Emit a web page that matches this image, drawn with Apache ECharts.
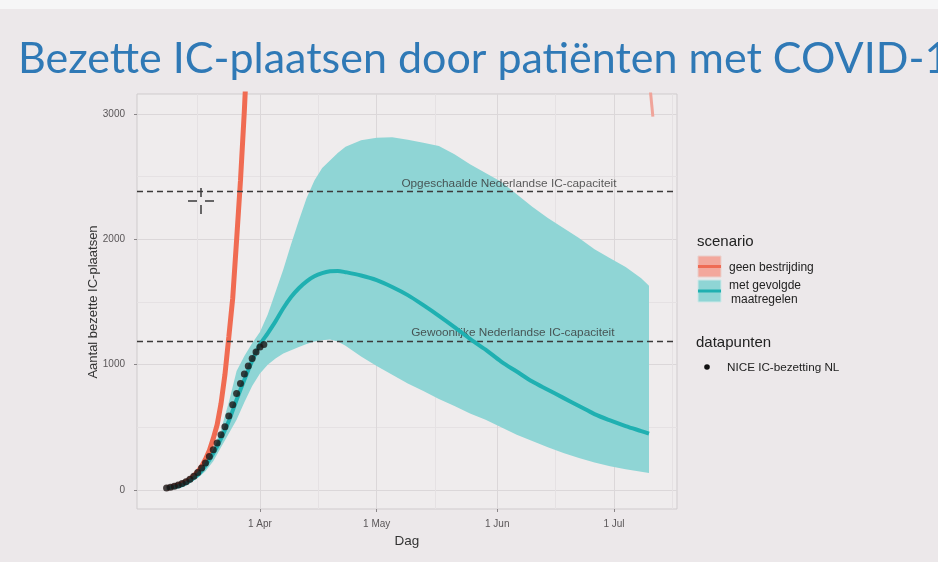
<!DOCTYPE html>
<html>
<head>
<meta charset="utf-8">
<script src="https://cdn.jsdelivr.net/npm/echarts@6/dist/echarts.min.js"></script>
<style>
html,body{margin:0;padding:0;background:#ece8ea;}
#c{width:938px;height:562px;}
</style>
</head>
<body>
<div id="c"></div>
<script>
// ---- data ----
const bandDates = ['2020-03-08','2020-03-12','2020-03-16','2020-03-18','2020-03-20','2020-03-22','2020-03-24','2020-03-26','2020-03-28','2020-03-30',
  '2020-04-01','2020-04-03','2020-04-05','2020-04-07','2020-04-09','2020-04-11','2020-04-13','2020-04-15','2020-04-17','2020-04-19',
  '2020-04-21','2020-04-23','2020-04-27','2020-05-01','2020-05-05','2020-05-09','2020-05-13','2020-05-17','2020-05-21','2020-05-25',
  '2020-05-29','2020-06-02','2020-06-06','2020-06-10','2020-06-14','2020-06-18','2020-06-22','2020-06-26','2020-06-30','2020-07-04',
  '2020-07-08','2020-07-10'];
const bandLow  = [14,30,95,150,230,340,450,560,700,830, 930,1000,1050,1090,1115,1140,1165,1185,1195,1200,
  1185,1150,1065,990,920,850,790,725,670,610, 560,500,440,390,340,295,255,220,190,165, 145,135];
const bandMid  = [16,38,120,195,290,410,550,720,880,1030, 1160,1250,1345,1450,1540,1610,1665,1705,1730,1745,
  1748,1738,1712,1675,1620,1555,1475,1390,1300,1205, 1120,1025,945,865,800,735,670,605,555,510, 470,450];
const bandHigh = [18,45,150,240,330,480,700,950,1070,1170, 1260,1400,1580,1760,1960,2150,2330,2470,2570,2630,
  2690,2740,2790,2810,2815,2795,2770,2745,2680,2600, 2530,2460,2360,2260,2170,2090,2010,1920,1850,1780, 1690,1630];

const redDates = ['2020-03-08','2020-03-09','2020-03-10','2020-03-11','2020-03-12','2020-03-13','2020-03-14','2020-03-15','2020-03-16','2020-03-17',
  '2020-03-18','2020-03-19','2020-03-20','2020-03-21','2020-03-22','2020-03-23','2020-03-24','2020-03-25','2020-03-26','2020-03-27',
  '2020-03-28','2020-03-29'];
const redValues = [16,22,30,40,52,67,87,112,145,188, 245,315,410,520,690,920,1220,1530,1995,2470, 3030,3700];
const redTailDates = ['2020-07-10','2020-07-11'];
const redTailValues = [3300,2980];

const dotDates = ['2020-03-08','2020-03-09','2020-03-10','2020-03-11','2020-03-12','2020-03-13','2020-03-14','2020-03-15','2020-03-16','2020-03-17',
  '2020-03-18','2020-03-19','2020-03-20','2020-03-21','2020-03-22','2020-03-23','2020-03-24','2020-03-25','2020-03-26','2020-03-27',
  '2020-03-28','2020-03-29','2020-03-30','2020-03-31','2020-04-01','2020-04-02'];
const dotValues = [16,22,30,40,52,66,85,110,140,175, 215,266,320,375,440,505,590,680,770,850, 925,990,1050,1100,1140,1160];

const capacityValues = [2380, 1190];
const capacityLabels = ['Opgeschaalde Nederlandse IC-capaciteit', 'Gewoonlijke Nederlandse IC-capaciteit'];
const capacityLabelDates = ['2020-06-04', '2020-06-05'];
const capacityLabelValues = [2442, 1253];

const xTickDates = ['2020-04-01','2020-05-01','2020-06-01','2020-07-01'];
const xTickLabels = ['1 Apr','1 May','1 Jun','1 Jul'];
const xMinorDates = ['2020-03-16','2020-04-16','2020-05-16','2020-06-16','2020-07-16'];
const yTicks = [0,1000,2000,3000];
const yMinorTicks = [500,1500,2500];

// ---- helpers ----
function toTs(s){ const p = s.split('-').map(Number); return new Date(p[0], p[1]-1, p[2]).getTime(); }
function pair(dates, vals){ return dates.map((d,i)=>[toTs(d), vals[i]]); }
const xTickTs = xTickDates.map(toTs);
const xMinorTs = xMinorDates.map(toTs);
const bandTs = bandDates.map(toTs);
const xMin = new Date(2020,1,29,9,36).getTime();
const xMax = new Date(2020,6,17,4,48).getTime();
const FONT = 'Liberation Sans, Arial, sans-serif';

const chart = echarts.init(document.getElementById('c'));
chart.setOption({
  animation:false,
  backgroundColor:'#ece8ea',
  grid:{left:137,right:261,top:94,bottom:53,show:true,backgroundColor:'#efeced',borderColor:'#cfcbcd',borderWidth:1},
  xAxis:[{
    type:'value', min:xMin, max:xMax, scale:true,
    axisLine:{show:false, onZero:false},
    axisTick:{show:true, customValues:xTickTs, length:3, lineStyle:{color:'#8a8688'}},
    axisLabel:{customValues:xTickTs, color:'#5a5658', fontSize:10, margin:10, fontFamily:FONT,
      formatter:function(v){ const i = xTickTs.indexOf(v); return i>=0 ? xTickLabels[i] : ''; }},
    splitLine:{show:true, lineStyle:{color:'#dbd7d9', width:1}},
    name:'Dag', nameLocation:'middle', nameGap:22,
    nameTextStyle:{color:'#333', fontSize:13.5, fontFamily:FONT}
  },{
    type:'value', min:xMin, max:xMax, scale:true, position:'bottom',
    axisLine:{show:false, onZero:false}, axisTick:{show:false, customValues:xMinorTs},
    axisLabel:{show:false, customValues:xMinorTs},
    splitLine:{show:true, lineStyle:{color:'#e5e1e3', width:1}}
  }],
  yAxis:[{
    type:'value', min:-152, max:3160,
    axisLine:{show:false, onZero:false},
    axisTick:{show:true, customValues:yTicks, length:3, lineStyle:{color:'#8a8688'}},
    axisLabel:{customValues:yTicks, color:'#5a5658', fontSize:10, margin:12, fontFamily:FONT,
      formatter:function(v){ return String(v); }},
    splitLine:{show:true, lineStyle:{color:'#dbd7d9', width:1}}
  },{
    type:'value', min:-152, max:3160, position:'left',
    axisLine:{show:false, onZero:false}, axisTick:{show:false, customValues:yMinorTicks},
    axisLabel:{show:false, customValues:yMinorTicks},
    splitLine:{show:true, lineStyle:{color:'#e5e1e3', width:1}}
  }],
  series:[
    {type:'custom', name:'band', silent:true, z:1, clip:true,
      data:[0],
      renderItem:function(params, api){
        const top = bandTs.map((t,i)=>api.coord([t, bandHigh[i]]));
        const bot = bandTs.map((t,i)=>api.coord([t, bandLow[i]])).reverse();
        return {type:'polygon', shape:{points: top.concat(bot)}, style:{fill:'#8fd5d5'}};
      }
    },
    {type:'scatter', name:'capaciteit', symbolSize:0.1, itemStyle:{color:'transparent'}, z:2, silent:true,
      data:capacityLabelDates.map((d,i)=>({value:[toTs(d), capacityLabelValues[i]], name:capacityLabels[i]})),
      label:{show:true, position:'inside', formatter:'{b}', color:'#333', fontSize:11.8, fontFamily:FONT},
      markLine:{silent:true, symbol:'none', label:{show:false},
        lineStyle:{type:[6,4], color:'#3c3a3b', width:1.3},
        data:capacityValues.map(v=>({yAxis:v}))}
    },
    {type:'line', name:'geen bestrijding', data:pair(redDates, redValues), symbol:'none',
      lineStyle:{color:'#f06b52', width:5}, z:4, silent:true},
    {type:'line', name:'geen bestrijding staart', data:pair(redTailDates, redTailValues), symbol:'none',
      lineStyle:{color:'#f0a49a', width:3}, z:4, silent:true},
    {type:'line', name:'met gevolgde maatregelen', data:pair(bandDates, bandMid), symbol:'none', smooth:0.3,
      lineStyle:{color:'#1fb0b1', width:4}, z:5, silent:true},
    {type:'scatter', name:'NICE IC-bezetting NL', data:pair(dotDates, dotValues), symbolSize:7,
      itemStyle:{color:'#1c1515'}, z:6, silent:true}
  ],
  graphic:[
    {type:'rect', shape:{x:0,y:0,width:938,height:9}, style:{fill:'#f6f6f7'}, silent:true},
    {type:'text', x:18, y:59, style:{text:'Bezette IC-plaatsen door patiënten met COVID-19', fill:'#2f79b6',
      font:'43px Lato, "Liberation Sans", sans-serif', verticalAlign:'middle'}, silent:true},
    {type:'text', x:93, y:302, rotation:Math.PI/2, style:{text:'Aantal bezette IC-plaatsen', fill:'#333',
      font:'13px '+FONT, align:'center', verticalAlign:'middle'}, silent:true},
    {type:'text', x:697, y:242, style:{text:'scenario', fill:'#222', font:'15px '+FONT, verticalAlign:'middle'}},
    {type:'rect', shape:{x:698,y:256,width:23,height:21}, style:{fill:'#f3a79c', stroke:'#e9d0cc', lineWidth:1}},
    {type:'line', shape:{x1:698,y1:266.5,x2:721,y2:266.5}, style:{stroke:'#ef6b54', lineWidth:3}},
    {type:'text', x:729, y:268, style:{text:'geen bestrijding', fill:'#222', font:'12px '+FONT, verticalAlign:'middle'}},
    {type:'rect', shape:{x:698,y:280,width:23,height:22}, style:{fill:'#8fd5d5', stroke:'#cde8e8', lineWidth:1}},
    {type:'line', shape:{x1:698,y1:291,x2:721,y2:291}, style:{stroke:'#1fb0b1', lineWidth:3}},
    {type:'text', x:729, y:286, style:{text:'met gevolgde', fill:'#222', font:'12px '+FONT, verticalAlign:'middle'}},
    {type:'text', x:731, y:300, style:{text:'maatregelen', fill:'#222', font:'12px '+FONT, verticalAlign:'middle'}},
    {type:'text', x:696, y:343, style:{text:'datapunten', fill:'#222', font:'15px '+FONT, verticalAlign:'middle'}},
    {type:'circle', shape:{cx:707,cy:367,r:2.8}, style:{fill:'#111'}},
    {type:'text', x:727, y:368, style:{text:'NICE IC-bezetting NL', fill:'#222', font:'11.7px '+FONT, verticalAlign:'middle'}},
    {type:'line', shape:{x1:201,y1:188,x2:201,y2:197}, style:{stroke:'#444', lineWidth:1.6}},
    {type:'line', shape:{x1:201,y1:205,x2:201,y2:214}, style:{stroke:'#444', lineWidth:1.6}},
    {type:'line', shape:{x1:188,y1:201,x2:197,y2:201}, style:{stroke:'#444', lineWidth:1.6}},
    {type:'line', shape:{x1:205,y1:201,x2:214,y2:201}, style:{stroke:'#444', lineWidth:1.6}}
  ]
});
</script>
</body>
</html>
